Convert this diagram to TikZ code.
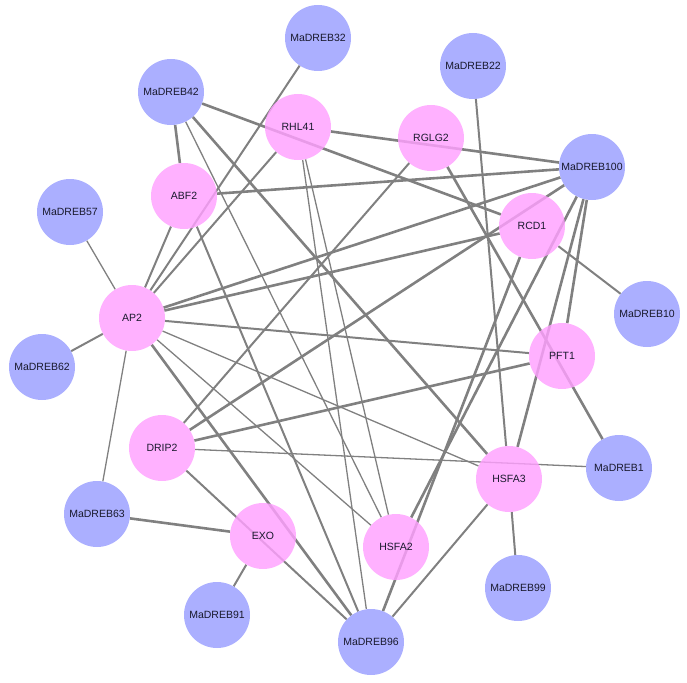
\documentclass[tikz,border=0pt]{standalone}
\usepackage{fontspec}
\setmainfont{Liberation Sans}
\pgfdeclarelayer{edgelayer}
\pgfsetlayers{edgelayer,main}
\definecolor{bluec}{RGB}{166,171,255}
\definecolor{pinkc}{RGB}{255,160,255}
\definecolor{edgec}{RGB}{128,128,128}
\definecolor{txtc}{RGB}{25,25,45}
\tikzset{
  gnode/.style={circle, minimum size=66pt, inner sep=0pt, text=txtc,
    font=\fontsize{10.5}{12}\selectfont},
  bnode/.style={gnode, fill=bluec, fill opacity=0.95, text opacity=1},
  pnode/.style={gnode, fill=pinkc, fill opacity=0.82, text opacity=1},
  ewa/.style={draw=edgec, line width=1.3pt},
  ewb/.style={draw=edgec, line width=2pt},
  ewc/.style={draw=edgec, line width=2.6pt}
}
\begin{document}
\begin{tikzpicture}[x=1pt,y=-1pt]
\useasboundingbox (0,0) rectangle (687,682);
% nodes
\node[bnode] (m32) at (318,38) {MaDREB32};
\node[bnode] (m22) at (473,66) {MaDREB22};
\node[bnode] (m42) at (171,92) {MaDREB42};
\node[pnode] (rhl) at (298,127) {RHL41};
\node[pnode] (rglg) at (431,138) {RGLG2};
\node[bnode] (m100) at (592,167) {MaDREB100};
\node[pnode] (abf) at (184,196) {ABF2};
\node[bnode] (m57) at (70,212) {MaDREB57};
\node[pnode] (rcd) at (532,226) {RCD1};
\node[bnode] (m10) at (647,314) {MaDREB10};
\node[pnode] (ap2) at (132,318) {AP2};
\node[bnode] (m62) at (42,367) {MaDREB62};
\node[pnode] (pft) at (562,356) {PFT1};
\node[pnode] (drip) at (162,448) {DRIP2};
\node[bnode] (m1) at (619,468) {MaDREB1};
\node[pnode] (hsfa3) at (509,479) {HSFA3};
\node[bnode] (m63) at (97,514) {MaDREB63};
\node[pnode] (exo) at (263,536) {EXO};
\node[pnode] (hsfa2) at (396,547) {HSFA2};
\node[bnode] (m99) at (518,588) {MaDREB99};
\node[bnode] (m91) at (217,615) {MaDREB91};
\node[bnode] (m96) at (371,642) {MaDREB96};
% edges
\begin{pgfonlayer}{edgelayer}
\path[ewa] (m57) -- (ap2);
\path[ewb] (m62) -- (ap2);
\path[ewa] (m63) -- (ap2);
\path[ewb] (m32) -- (ap2);
\path[ewb] (abf) -- (ap2);
\path[ewb] (rhl) -- (ap2);
\path[ewc] (ap2) -- (m100);
\path[ewc] (ap2) -- (rcd);
\path[ewb] (ap2) -- (pft);
\path[ewa] (ap2) -- (hsfa3);
\path[ewa] (ap2) -- (hsfa2);
\path[ewc] (ap2) -- (m96);
\path[ewc] (m42) -- (abf);
\path[ewc] (m42) -- (rcd);
\path[ewc] (m42) -- (hsfa3);
\path[ewa] (m42) -- (hsfa2);
\path[ewc] (rhl) -- (m100);
\path[ewa] (rhl) -- (m96);
\path[ewa] (rhl) -- (hsfa2);
\path[ewc] (abf) -- (m100);
\path[ewb] (abf) -- (m96);
\path[ewb] (rglg) -- (drip);
\path[ewc] (rglg) -- (m1);
\path[ewb] (m22) -- (hsfa3);
\path[ewb] (rcd) -- (m10);
\path[ewc] (rcd) -- (m96);
\path[ewc] (drip) -- (m100);
\path[ewc] (drip) -- (pft);
\path[ewa] (drip) -- (m1);
\path[ewb] (drip) -- (m96);
\path[ewc] (m100) -- (pft);
\path[ewc] (m100) -- (hsfa3);
\path[ewc] (m100) -- (hsfa2);
\path[ewb] (hsfa3) -- (m99);
\path[ewb] (hsfa3) -- (m96);
\path[ewc] (m63) -- (exo);
\path[ewb] (exo) -- (m91);
\end{pgfonlayer}
\end{tikzpicture}
\end{document}
